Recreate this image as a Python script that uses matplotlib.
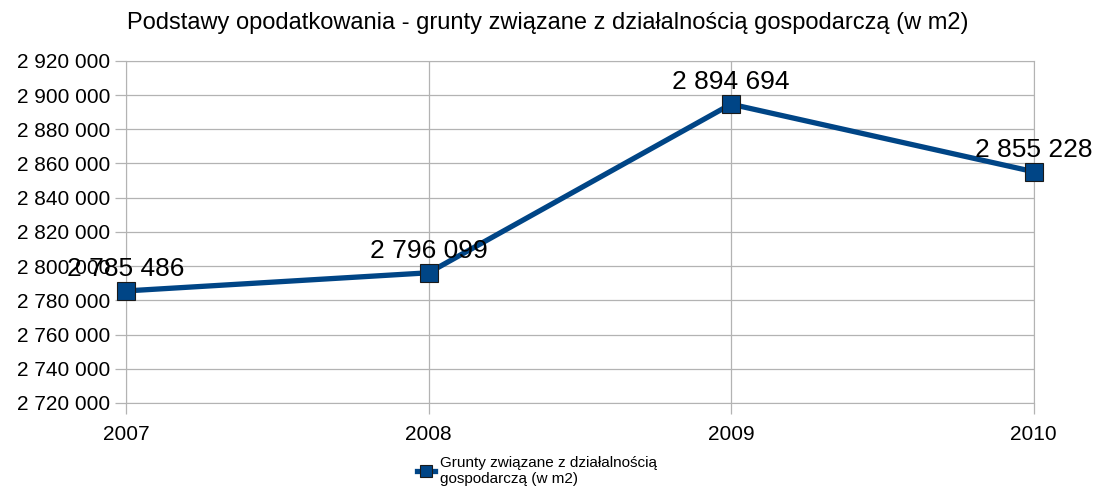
import matplotlib
matplotlib.use('Agg')
import matplotlib.pyplot as plt
from matplotlib.ticker import FuncFormatter

plt.rcParams['font.family'] = ['Liberation Sans', 'DejaVu Sans']

years = ['2007', '2008', '2009', '2010']
values = [2785486, 2796099, 2894694, 2855228]
title = 'Podstawy opodatkowania - grunty związane z działalnością gospodarczą (w m2)'
series_name = 'Grunty związane z działalnością\ngospodarczą (w m2)'

def fmt(v, pos=None):
    return '{:,.0f}'.format(v).replace(',', ' ')

fig = plt.figure(figsize=(10.96, 4.95), dpi=100)
ax = fig.add_axes([0.115, 0.186, 0.828, 0.691])

x = list(range(len(years)))
ax.plot(x, values, '-', color='#004586', linewidth=3.8, marker='s',
        markersize=13, markerfacecolor='#004586', markeredgecolor='#1a1a1a',
        markeredgewidth=0.8, label=series_name, zorder=3, clip_on=False)

for xi, v in zip(x, values):
    ax.annotate(fmt(v), (xi, v), xytext=(0, 7), textcoords='offset points',
                ha='center', va='bottom', fontsize=19, color='black',
                annotation_clip=False, zorder=4)

ax.set_xlim(0, 3)
ax.set_ylim(2720000, 2920000)
ax.set_yticks(range(2720000, 2920001, 20000))
ax.yaxis.set_major_formatter(FuncFormatter(fmt))
ax.set_xticks(x)
ax.set_xticklabels(years)
ax.grid(True, color='#b3b3b3', linewidth=0.9)
ax.set_axisbelow(True)
for s in ax.spines.values():
    s.set_color('#b3b3b3')
ax.tick_params(axis='both', colors='#b3b3b3', labelcolor='black', labelsize=15,
               length=8, width=0.9)
ax.tick_params(axis='x', pad=8)

fig.suptitle(title, fontsize=17, y=0.975)
fig.legend(loc='lower center', bbox_to_anchor=(0.49, -0.01), frameon=False,
           fontsize=11, handlelength=1.2, handletextpad=0.3, markerscale=0.7,
           labelspacing=0.1)

fig.savefig('out.png', dpi=100)
